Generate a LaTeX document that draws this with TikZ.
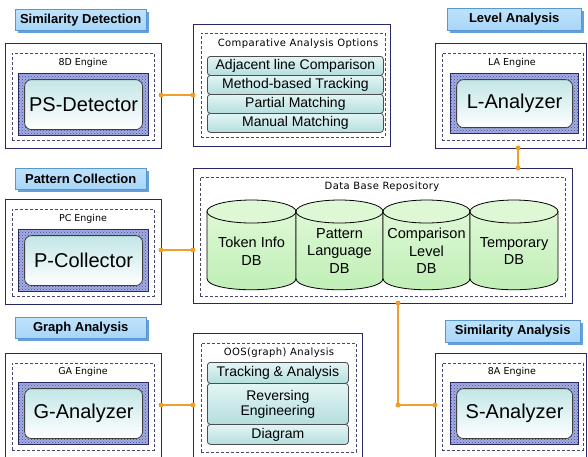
\documentclass[tikz,border=0pt]{standalone}
\usepackage{fontspec}
\setmainfont{Liberation Sans}
\newfontfamily\smallf{DejaVu Sans}
\newfontfamily\smallsp[LetterSpace=4]{DejaVu Sans}
\usetikzlibrary{patterns,calc,shadows}
\definecolor{navy}{RGB}{40,40,100}
\definecolor{dashc}{RGB}{70,70,110}
\definecolor{conncol}{RGB}{240,160,40}
\definecolor{lblfill}{RGB}{168,214,248}
\definecolor{lbltop}{RGB}{190,226,252}
\definecolor{lblshadow}{RGB}{100,160,220}
\definecolor{lblborder}{RGB}{90,150,210}
\definecolor{hatchbg}{RGB}{165,175,228}
\definecolor{hatchfg}{RGB}{60,70,140}
\definecolor{innertop}{RGB}{195,230,230}
\definecolor{rowtop}{RGB}{228,245,245}
\definecolor{rowbot}{RGB}{180,222,222}
\definecolor{cylbody}{RGB}{190,238,180}
\definecolor{cylend}{RGB}{222,248,214}
\tikzset{
  box/.style={draw=navy, line width=1pt, fill=white, inner sep=0pt, outer sep=0pt, anchor=north west},
  dbox/.style={draw=dashc, dash pattern=on 3pt off 2pt, line width=0.8pt, inner sep=0pt, outer sep=0pt, anchor=north west},
  lbl/.style={draw=lblborder, top color=lbltop, bottom color=lblfill, anchor=north west, inner sep=0pt,
    font=\fontsize{13}{13}\selectfont\bfseries,
    drop shadow={shadow xshift=3pt, shadow yshift=-3pt, fill=lblshadow, opacity=1}},
  hatch/.style={draw=navy, line width=1.2pt, anchor=north west, inner sep=0pt,
    preaction={fill=hatchbg}, pattern=crosshatch dots, pattern color=hatchfg},
  inbox/.style={draw=black!75, line width=0.8pt, rounded corners=7pt, top color=innertop, bottom color=white,
    inner sep=0pt, font=\fontsize{20}{20}\selectfont},
  row/.style={draw=black!70, line width=0.8pt, rounded corners=3pt, top color=rowtop, bottom color=rowbot,
    anchor=north west, inner sep=0pt, align=center, font=\fontsize{14}{15}\selectfont},
  eng/.style={font=\smallf\fontsize{9.5}{9.5}\selectfont, inner sep=0pt},
  ttl/.style={font=\smallsp\fontsize{10}{10}\selectfont, inner sep=0pt},
  cylbody/.style={draw=black, line width=0.8pt, top color=cylend, bottom color=cylbody},
  cyltop/.style={draw=black, line width=0.8pt, fill=cylend},
  cyltext/.style={align=center, inner sep=0pt, font=\fontsize{14.5}{17.5}\selectfont},
  conn/.style={draw=conncol, line width=1.5pt},
  dot/.style={circle, fill=conncol, inner sep=0pt, minimum size=5pt}
}
% cylinder: #1 left x, #2 right x
\newcommand{\dbcyl}[2]{%
  \path[cylbody] (#1,211.5) -- (#1,278.5)
     .. controls (#1,293.5) and (#2,293.5) .. (#2,278.5) -- (#2,211.5) -- cycle;
  \path[cyltop] ({(#1+#2)/2},211.5) ellipse [x radius={(#2-#1)/2*1pt}, y radius=11.5pt];
}
\begin{document}
\begin{tikzpicture}[x=1pt,y=-1pt]
\useasboundingbox (0,0) rectangle (588,456);
\clip (0,0) rectangle (588,456);

% ---------- Similarity Detection ----------
\node[lbl, minimum width=131pt, minimum height=21pt] (sdl) at (15,9) {Similarity Detection};
\node[box, minimum width=156pt, minimum height=105pt] (sdout) at (5,43) {};
\node[dbox, minimum width=142pt, minimum height=87pt] (sdd) at (12,53) {};
\node[eng] (sde) at (83,63) {8D Engine};
\node[hatch, minimum width=130pt, minimum height=62pt] (sdh) at (18,73) {};
\node[inbox, minimum width=118pt, minimum height=50pt] (sdi) at (sdh.center) {PS-Detector};

% ---------- Pattern Collection ----------
\node[lbl, minimum width=131pt, minimum height=21pt] (pcl) at (15,168) {Pattern Collection};
\node[box, minimum width=156pt, minimum height=105pt] (pcout) at (5,199) {};
\node[dbox, minimum width=142pt, minimum height=87pt] (pcd) at (12,209) {};
\node[eng] (pce) at (83,219) {PC Engine};
\node[hatch, minimum width=130pt, minimum height=62pt] (pch) at (18,229) {};
\node[inbox, minimum width=118pt, minimum height=50pt] (pci) at (pch.center) {P-Collector};

% ---------- Graph Analysis ----------
\node[lbl, minimum width=131pt, minimum height=21pt] (gal) at (15,317) {Graph Analysis};
\node[box, minimum width=156pt, minimum height=110pt] (gaout) at (5,353) {};
\node[dbox, minimum width=142pt, minimum height=87pt] (gad) at (12,363) {};
\node[eng] (gae) at (83,372) {GA Engine};
\node[hatch, minimum width=130pt, minimum height=62pt] (gah) at (18,382) {};
\node[inbox, minimum width=118pt, minimum height=50pt] (gai) at (gah.center) {G-Analyzer};

% ---------- Level Analysis ----------
\node[lbl, minimum width=134pt, minimum height=22pt] (lal) at (447,8) {Level Analysis};
\node[box, minimum width=151pt, minimum height=105pt] (laout) at (435,43) {};
\node[dbox, minimum width=141pt, minimum height=87pt] (lad) at (442,53) {};
\node[eng] (lae) at (512,63) {LA Engine};
\node[hatch, minimum width=128pt, minimum height=60pt] (lah) at (450,73) {};
\node[inbox, minimum width=116pt, minimum height=48pt] (lai) at (lah.center) {L-Analyzer};

% ---------- Similarity Analysis ----------
\node[lbl, minimum width=135pt, minimum height=22pt] (sal) at (445,320) {Similarity Analysis};
\node[box, minimum width=151pt, minimum height=110pt] (saout) at (435,353) {};
\node[dbox, minimum width=141pt, minimum height=87pt] (sad) at (442,363) {};
\node[eng] (sae) at (512,372) {8A Engine};
\node[hatch, minimum width=128pt, minimum height=62pt] (sah) at (450,382) {};
\node[inbox, minimum width=116pt, minimum height=50pt] (sai) at (sah.center) {S-Analyzer};

% ---------- Comparative Analysis Options ----------
\node[box, minimum width=197pt, minimum height=122pt] (cmp) at (193,24) {};
\node[dbox, minimum width=184pt, minimum height=104pt] (cmpd) at (201,33) {};
\node[ttl] (cmpt) at (298,44) {Comparative Analysis Options};
\node[row, minimum width=176pt, minimum height=19pt] (r1) at (207,56) {Adjacent line Comparison};
\node[row, minimum width=176pt, minimum height=19pt] (r2) at (207,75) {Method-based Tracking};
\node[row, minimum width=176pt, minimum height=19pt] (r3) at (207,94) {Partial Matching};
\node[row, minimum width=176pt, minimum height=19pt] (r4) at (207,113) {Manual Matching};

% ---------- Data Base Repository ----------
\node[box, minimum width=379pt, minimum height=135pt] (db) at (193,168) {};
\node[dbox, minimum width=365pt, minimum height=119pt] (dbd) at (200,177) {};
\node[ttl] (dbt) at (382,187) {Data Base Repository};
\dbcyl{207}{296}
\dbcyl{296}{383}
\dbcyl{383}{470}
\dbcyl{470}{558}
\node[cyltext] (c1) at (251.5,251) {Token Info\\DB};
\node[cyltext] (c2) at (339.5,251) {Pattern\\Language\\DB};
\node[cyltext] (c3) at (426.5,251) {Comparison\\Level\\DB};
\node[cyltext] (c4) at (514,251) {Temporary\\DB};

% ---------- OOS(graph) Analysis ----------
\node[box, minimum width=169pt, minimum height=130pt] (oos) at (193,333) {};
\node[dbox, minimum width=155pt, minimum height=109pt] (oosd) at (201,343) {};
\node[ttl] (oost) at (279,353) {OOS(graph) Analysis};
\node[row, minimum width=141pt, minimum height=21pt] (g1) at (207,362) {Tracking \& Analysis};
\node[row, minimum width=141pt, minimum height=41pt] (g2) at (207,383) {Reversing\\Engineering};
\node[row, minimum width=141pt, minimum height=20pt] (g3) at (207,424) {Diagram};

% ---------- connectors ----------
\coordinate (a1) at (sdout.east |- 0,95);
\coordinate (a2) at (cmp.west |- 0,95);
\draw[conn] (a1) -- (a2);
\node[dot] at (a1) {}; \node[dot] at (a2) {};

\coordinate (b1) at (pcout.east |- 0,250);
\coordinate (b2) at (db.west |- 0,250);
\draw[conn] (b1) -- (b2);
\node[dot] at (b1) {}; \node[dot] at (b2) {};

\coordinate (d1) at (gaout.east |- 0,405);
\coordinate (d2) at (oos.west |- 0,405);
\draw[conn] (d1) -- (d2);
\node[dot] at (d1) {}; \node[dot] at (d2) {};

\coordinate (e1) at (518,0 |- laout.south);
\coordinate (e2) at (518,0 |- db.north);
\draw[conn] (e1) -- (e2);
\node[dot] at (e1) {}; \node[dot] at (e2) {};

\coordinate (f1) at (398,0 |- db.south);
\coordinate (f2) at (398,405);
\coordinate (f3) at (saout.west |- 0,405);
\draw[conn] (f1) -- (f2) -- (f3);
\node[dot] at (f1) {}; \node[dot] at (f2) {}; \node[dot] at (f3) {};
\end{tikzpicture}
\end{document}
